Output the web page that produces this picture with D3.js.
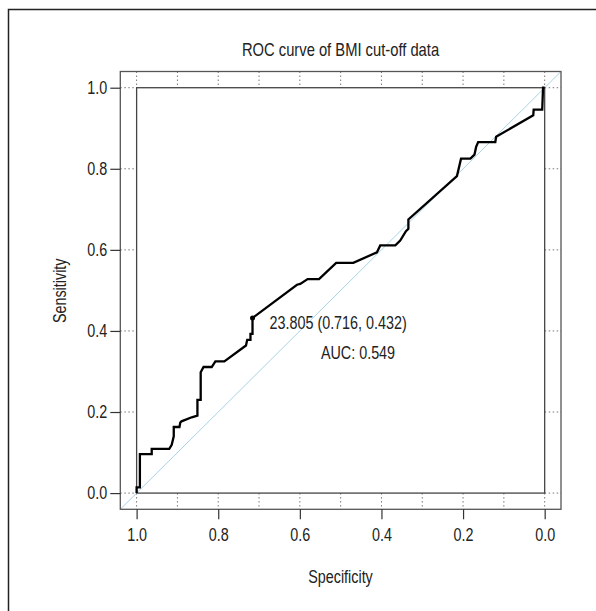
<!DOCTYPE html>
<html>
<head>
<meta charset="utf-8">
<script src="https://cdn.jsdelivr.net/npm/d3@7"></script>
<style>
  html, body { margin: 0; padding: 0; background: #fff; }
  svg text { font-family: "Liberation Sans", Arial, sans-serif; fill: #222; }
</style>
</head>
<body>
<div class="chart"></div>
<script>
// ROC points, in plotting order (specificity, sensitivity)
var specificity = [1.000, 1.000, 0.992, 0.992, 0.963, 0.963, 0.920, 0.914, 0.909, 0.909, 0.895, 0.893,
  0.890, 0.865, 0.851, 0.851, 0.843, 0.843, 0.836, 0.816, 0.807, 0.785, 0.732, 0.729, 0.721, 0.721,
  0.716, 0.716, 0.607, 0.599, 0.581, 0.553, 0.511, 0.469, 0.411, 0.403, 0.366, 0.354, 0.340, 0.334,
  0.334, 0.215, 0.205, 0.182, 0.172, 0.168, 0.163, 0.121, 0.119, 0.028, 0.027, 0.006, 0.004, 0.000];
var sensitivity = [0.000, 0.014, 0.014, 0.096, 0.096, 0.109, 0.109, 0.119, 0.140, 0.163, 0.163, 0.174,
  0.177, 0.187, 0.191, 0.230, 0.230, 0.298, 0.311, 0.311, 0.325, 0.325, 0.364, 0.378, 0.378, 0.393,
  0.393, 0.432, 0.514, 0.516, 0.528, 0.528, 0.568, 0.568, 0.594, 0.611, 0.611, 0.623, 0.646, 0.652,
  0.675, 0.782, 0.825, 0.825, 0.835, 0.854, 0.866, 0.866, 0.879, 0.932, 0.946, 0.946, 1.000, 1.000];

var bestThreshold = { label: "23.805", spec: 0.716, sens: 0.432 };
var aucText = "AUC: 0.549";

var xTickValues = [1.0, 0.8, 0.6, 0.4, 0.2, 0.0];
var yTickValues = [0.0, 0.2, 0.4, 0.6, 0.8, 1.0];
var xMinor = [1.0, 0.9, 0.8, 0.7, 0.6, 0.5, 0.4, 0.3, 0.2, 0.1, 0.0];

var width = 596, height = 611;
var squeeze = 0.82;   // the original uses a condensed face
var fontSize = "17.5px";

var svg = d3.select(".chart")
  .append("svg")
  .attr("width", width)
  .attr("height", height);

// condensed text helper: anchor stays at (x, y)
function label(x0, y0, str, anchor, size, rotate) {
  return svg.append("text")
    .attr("transform", "translate(" + x0 + "," + y0 + ")" + (rotate ? " rotate(" + rotate + ")" : "") + " scale(" + squeeze + ",1)")
    .attr("text-anchor", anchor)
    .style("font-size", size)
    .text(str);
}

// frame of the figure (only top and left edges fall inside the picture)
svg.append("rect")
  .attr("x", 8.5).attr("y", 9.5)
  .attr("width", 800).attr("height", 800)
  .style("fill", "none").style("stroke", "#222").style("stroke-width", 1.5);

// R style: axis range extended by 4% on each side, spec axis reversed
var x = d3.scaleLinear().domain([1.04, -0.04]).range([120.3, 561]);
var y = d3.scaleLinear().domain([-0.04, 1.04]).range([509.3, 71.5]);

// dotted marks in the strip between the two boxes
var dots = svg.append("g")
  .style("stroke", "#777").style("stroke-width", 1).style("stroke-dasharray", "1.5,2.5");

dots.selectAll(".top").data(xMinor).enter().append("line")
  .attr("x1", function (d) { return x(d); }).attr("x2", function (d) { return x(d); })
  .attr("y1", y(1.04)).attr("y2", y(1));
dots.selectAll(".bottom").data(xMinor).enter().append("line")
  .attr("x1", function (d) { return x(d); }).attr("x2", function (d) { return x(d); })
  .attr("y1", y(0)).attr("y2", y(-0.04));
dots.selectAll(".left").data(yTickValues).enter().append("line")
  .attr("y1", function (d) { return y(d); }).attr("y2", function (d) { return y(d); })
  .attr("x1", x(1.04)).attr("x2", x(1));
dots.selectAll(".right").data(yTickValues).enter().append("line")
  .attr("y1", function (d) { return y(d); }).attr("y2", function (d) { return y(d); })
  .attr("x1", x(0)).attr("x2", x(-0.04));

// chance diagonal across the whole plot region
svg.append("line")
  .attr("x1", x(1.04)).attr("y1", y(-0.04))
  .attr("x2", x(-0.04)).attr("y2", y(1.04))
  .style("stroke", "#a9d3e8").style("stroke-width", 1);

// outer box
svg.append("rect")
  .attr("x", x(1.04)).attr("y", y(1.04))
  .attr("width", x(-0.04) - x(1.04)).attr("height", y(-0.04) - y(1.04))
  .style("fill", "none").style("stroke", "#555").style("stroke-width", 1.3);

// inner box at [0,1] x [0,1]
svg.append("rect")
  .attr("x", x(1)).attr("y", y(1))
  .attr("width", x(0) - x(1)).attr("height", y(0) - y(1))
  .style("fill", "none").style("stroke", "#444").style("stroke-width", 1.3);

// axes
var xAxis = svg.append("g")
  .attr("transform", "translate(0," + y(-0.04) + ")")
  .call(d3.axisBottom(x).tickValues(xTickValues).tickFormat(d3.format(".1f")).tickSize(10).tickPadding(9));
var yAxis = svg.append("g")
  .attr("transform", "translate(" + x(1.04) + ",0)")
  .call(d3.axisLeft(y).tickValues(yTickValues).tickFormat(d3.format(".1f")).tickSize(10).tickPadding(3));

[xAxis, yAxis].forEach(function (a) {
  a.select(".domain").remove();
  a.selectAll(".tick line").style("stroke", "#333").style("stroke-width", 1.2);
  a.selectAll(".tick text")
    .style("font-family", '"Liberation Sans", Arial, sans-serif')
    .style("font-size", fontSize).style("fill", "#222")
    .attr("transform", "scale(" + squeeze + ",1)");
});
yAxis.selectAll(".tick text").attr("x", -13 / squeeze);

// ROC curve
var pts = specificity.map(function (s, i) { return [s, sensitivity[i]]; });
var line = d3.line()
  .x(function (d) { return x(d[0]); })
  .y(function (d) { return y(d[1]); });

svg.append("path")
  .datum(pts)
  .attr("d", line)
  .style("fill", "none").style("stroke", "#000").style("stroke-width", 2.3)
  .style("stroke-linejoin", "miter");

// best threshold point and its label
svg.append("circle")
  .attr("cx", x(bestThreshold.spec)).attr("cy", y(bestThreshold.sens))
  .attr("r", 2.5).style("fill", "#000");

label(x(bestThreshold.spec) + 17, y(bestThreshold.sens) + 11,
  bestThreshold.label + " (" + bestThreshold.spec.toFixed(3) + ", " + bestThreshold.sens.toFixed(3) + ")",
  "start", fontSize);

label(358, 359, aucText, "middle", fontSize);

// titles
label(340.5, 56, "ROC curve of BMI cut-off data", "middle", "18px");
label(340.5, 583, "Specificity", "middle", fontSize);
label(66, 290.8, "Sensitivity", "middle", fontSize, -90);
</script>
</body>
</html>
